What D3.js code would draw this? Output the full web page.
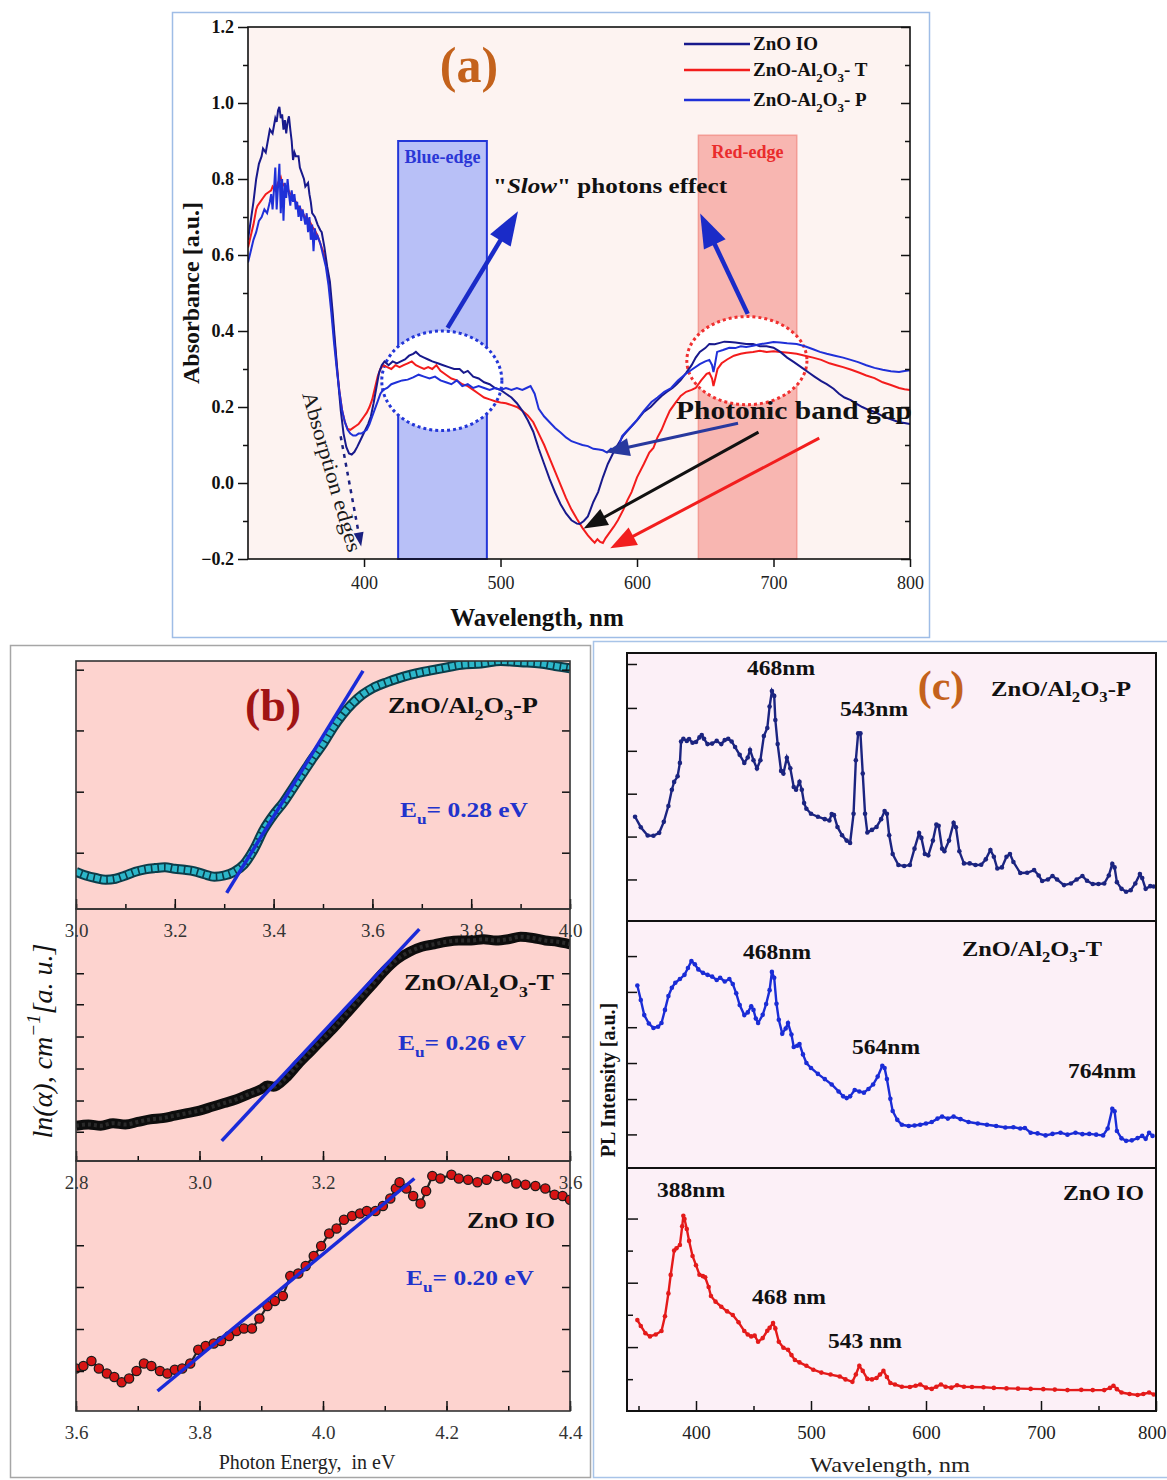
<!DOCTYPE html>
<html>
<head>
<meta charset="utf-8">
<script src="https://cdn.jsdelivr.net/npm/d3@7"></script>
<style>
  body { margin: 0; background: #fff; }
  svg { display: block; }
</style>
</head>
<body>
<svg id="fig" width="1167" height="1480"></svg>
<script>
// ---------------- data ----------------
// (a) absorbance vs wavelength [nm, a.u.]
var absIO = [[315,0.64],[317,0.69],[319,0.74],[321,0.80],[323,0.84],[325,0.86],[326,0.88],[328,0.87],[330,0.91],[331,0.93],[333,0.92],[335,0.96],[336,0.95],[337,0.98],[338,0.99],[339,0.96],[340,0.97],[341,0.93],[342,0.955],[343,0.92],[344,0.95],[345,0.965],[346,0.93],[347,0.90],[348,0.85],[349,0.87],[350,0.86],[352,0.86],[353,0.83],[354,0.82],[356,0.80],[357,0.78],[359,0.79],[360,0.76],[361,0.74],[362,0.71],[364,0.70],[366,0.68],[368,0.665],[369,0.66],[371,0.62],[373,0.57],[375,0.53],[377,0.45],[379,0.36],[381,0.27],[383,0.19],[385,0.13],[387,0.095],[389,0.078],[391,0.075],[393,0.082],[395,0.095],[397,0.11],[399,0.125],[401,0.14],[403,0.155],[405,0.175],[407,0.21],[409,0.25],[411,0.29],[413,0.31],[415,0.32],[418,0.31],[421,0.32],[424,0.315],[427,0.32],[430,0.325],[433,0.335],[436,0.34],[438,0.345],[441,0.335],[444,0.33],[447,0.325],[450,0.32],[454,0.315],[458,0.31],[462,0.305],[466,0.30],[470,0.30],[473,0.29],[476,0.295],[480,0.28],[484,0.275],[488,0.265],[492,0.26],[496,0.25],[500,0.245],[504,0.235],[508,0.225],[512,0.21],[516,0.19],[520,0.165],[524,0.135],[528,0.09],[532,0.05],[536,0.01],[540,-0.025],[544,-0.056],[548,-0.08],[552,-0.098],[556,-0.107],[558,-0.108],[561,-0.1],[564,-0.088],[568,-0.05],[571.5,-0.024],[575,0.015],[578.6,0.05],[582,0.075],[585.8,0.10],[590,0.125],[594.7,0.144],[600,0.165],[605,0.187],[610,0.20],[614,0.215],[618,0.229],[622,0.24],[626,0.25],[629,0.26],[632,0.271],[636,0.29],[640,0.31],[643,0.33],[646,0.345],[650,0.355],[653,0.366],[657,0.365],[660,0.368],[664,0.372],[668,0.371],[672,0.37],[676,0.368],[680,0.366],[685,0.366],[690,0.36],[695,0.36],[700,0.356],[705,0.345],[710,0.33],[715,0.318],[721,0.303],[726,0.29],[730,0.28],[735,0.268],[739,0.26],[744,0.248],[748,0.235],[752,0.225],[756.6,0.218],[760,0.21],[765,0.2],[770,0.192],[774,0.187],[779,0.178],[784,0.17],[788,0.165],[792,0.16],[796,0.158],[800,0.155]];
var absT = [[315,0.62],[317,0.65],[319,0.68],[321,0.72],[322,0.73],[324,0.74],[326,0.75],[328,0.76],[330,0.765],[332,0.77],[333,0.78],[335,0.77],[337,0.79],[339,0.805],[340,0.79],[342,0.78],[344,0.775],[346,0.76],[348,0.755],[350,0.74],[351,0.73],[353,0.725],[355,0.71],[357,0.70],[359,0.695],[360,0.69],[362,0.675],[364,0.665],[366,0.65],[368,0.63],[370,0.61],[372,0.58],[374,0.54],[376,0.47],[378,0.39],[380,0.31],[382,0.24],[384,0.19],[386,0.16],[388,0.142],[390,0.14],[392,0.145],[394,0.15],[396,0.155],[398,0.165],[400,0.175],[402,0.185],[404,0.2],[406,0.22],[408,0.25],[410,0.28],[412,0.30],[414,0.31],[417,0.305],[420,0.30],[423,0.31],[426,0.305],[429,0.31],[432,0.315],[435,0.32],[438,0.31],[441,0.305],[444,0.30],[447,0.305],[450,0.30],[453,0.31],[456,0.295],[460,0.285],[464,0.275],[468,0.27],[472,0.26],[476,0.255],[480,0.245],[484,0.235],[488,0.225],[492,0.22],[496,0.215],[500,0.212],[504,0.21],[508,0.205],[512,0.20],[516,0.19],[520,0.178],[524,0.16],[528,0.13],[532,0.10],[536,0.065],[540,0.03],[544,-0.005],[548,-0.04],[552,-0.07],[556,-0.095],[560,-0.118],[564,-0.138],[567,-0.15],[569,-0.157],[571,-0.148],[573,-0.155],[575,-0.158],[577,-0.145],[580,-0.13],[583,-0.115],[586,-0.098],[590,-0.07],[593,-0.045],[596,-0.024],[600,0.015],[605,0.05],[609,0.08],[612,0.092],[615,0.12],[618,0.14],[621,0.166],[624,0.19],[628,0.21],[632,0.229],[636,0.24],[640,0.245],[643,0.25],[647,0.27],[651,0.287],[653,0.29],[655,0.275],[656,0.255],[657,0.27],[659,0.30],[662,0.315],[666,0.325],[671,0.335],[676,0.34],[680,0.343],[685,0.345],[690,0.348],[695,0.345],[700,0.347],[705,0.345],[711,0.343],[717,0.34],[723,0.335],[729,0.33],[735,0.324],[741,0.315],[746,0.31],[751,0.305],[757,0.298],[763,0.29],[768,0.283],[774,0.276],[780,0.265],[786,0.258],[792,0.25],[796,0.247],[800,0.245]];
var absP = [[315,0.58],[317,0.61],[319,0.64],[321,0.66],[323,0.69],[325,0.70],[327,0.72],[329,0.71],[331,0.74],[332,0.76],[333,0.72],[334,0.77],[335,0.83],[336,0.72],[337,0.78],[338,0.84],[339,0.71],[340,0.80],[341,0.69],[342,0.79],[343,0.75],[344,0.80],[345,0.76],[346,0.73],[347,0.77],[348,0.74],[349,0.76],[350,0.72],[351,0.74],[352,0.70],[353,0.73],[354,0.69],[355,0.72],[356,0.70],[357,0.68],[358,0.71],[359,0.66],[360,0.70],[361,0.64],[362,0.68],[363,0.61],[364,0.67],[365,0.64],[366,0.65],[368,0.63],[370,0.60],[372,0.57],[374,0.52],[376,0.45],[378,0.37],[380,0.30],[382,0.24],[384,0.19],[386,0.16],[388,0.14],[390,0.13],[392,0.125],[394,0.125],[396,0.13],[398,0.13],[400,0.135],[402,0.14],[404,0.155],[406,0.175],[408,0.195],[410,0.215],[412,0.235],[414,0.245],[417,0.25],[420,0.26],[424,0.265],[428,0.27],[432,0.272],[436,0.278],[440,0.285],[444,0.28],[448,0.275],[452,0.28],[456,0.27],[460,0.265],[464,0.26],[468,0.27],[472,0.255],[476,0.26],[480,0.25],[484,0.255],[488,0.25],[492,0.245],[496,0.25],[500,0.245],[504,0.25],[508,0.245],[512,0.25],[516,0.245],[519,0.25],[522,0.255],[525,0.235],[528,0.195],[532,0.175],[536,0.16],[540,0.145],[544,0.133],[548,0.12],[552,0.11],[556,0.105],[560,0.10],[564,0.097],[568,0.09],[572,0.088],[575,0.086],[578,0.08],[581,0.09],[584,0.085],[587,0.1],[589,0.123],[592,0.135],[596,0.15],[600,0.166],[605,0.19],[610.6,0.213],[615,0.225],[620,0.24],[625,0.25],[630,0.27],[635.6,0.287],[640,0.298],[646,0.313],[650,0.32],[653,0.324],[655,0.31],[656,0.292],[657,0.31],[658.7,0.345],[663,0.35],[667.6,0.356],[672,0.355],[676,0.36],[680,0.358],[685,0.361],[690,0.365],[695,0.368],[700,0.371],[705,0.37],[710,0.368],[717,0.366],[723,0.36],[729,0.352],[734,0.345],[739,0.34],[745,0.335],[751,0.33],[756.6,0.324],[762,0.318],[768,0.31],[774,0.303],[780,0.298],[786,0.294],[792,0.292],[796,0.295],[800,0.297]];
var absNames = ["ZnO IO", "ZnO-Al_2O_3- T", "ZnO-Al_2O_3- P"];
var aYTicks = [-0.2, 0, 0.2, 0.4, 0.6, 0.8, 1.0, 1.2];
var aYMinor = [-0.1, 0.1, 0.3, 0.5, 0.7, 0.9, 1.1];
var aXTicks = [400, 500, 600, 700, 800];
var blueEdge = [425, 490, 0.9];
var redEdge = [645, 717, 0.915];

// (b) Urbach plots [eV, relative ln(alpha)]
var urbP = [[3.00,0.15],[3.02,0.135],[3.04,0.125],[3.06,0.118],[3.08,0.122],[3.10,0.135],[3.12,0.15],[3.14,0.16],[3.16,0.165],[3.18,0.168],[3.20,0.162],[3.22,0.158],[3.24,0.152],[3.26,0.14],[3.28,0.13],[3.30,0.135],[3.32,0.15],[3.34,0.18],[3.36,0.24],[3.38,0.32],[3.40,0.38],[3.42,0.43],[3.44,0.49],[3.46,0.55],[3.48,0.61],[3.50,0.665],[3.52,0.73],[3.54,0.785],[3.56,0.83],[3.58,0.865],[3.60,0.89],[3.63,0.915],[3.66,0.935],[3.70,0.955],[3.74,0.97],[3.78,0.985],[3.82,0.99],[3.86,1.0],[3.90,0.995],[3.94,0.99],[3.97,0.98],[4.00,0.97]];
var urbT = [[2.80,0.14],[2.82,0.145],[2.84,0.14],[2.86,0.15],[2.88,0.145],[2.90,0.155],[2.92,0.165],[2.94,0.17],[2.96,0.18],[2.98,0.19],[3.00,0.20],[3.02,0.215],[3.04,0.23],[3.06,0.245],[3.08,0.265],[3.10,0.285],[3.11,0.30],[3.12,0.295],[3.14,0.33],[3.16,0.385],[3.18,0.435],[3.20,0.485],[3.22,0.535],[3.24,0.59],[3.26,0.645],[3.28,0.70],[3.30,0.755],[3.32,0.80],[3.34,0.83],[3.36,0.85],[3.38,0.86],[3.40,0.87],[3.42,0.875],[3.44,0.875],[3.46,0.88],[3.48,0.875],[3.50,0.88],[3.52,0.89],[3.54,0.885],[3.56,0.875],[3.58,0.87],[3.60,0.86]];
var urbIO = [[3.600,0.17],[3.612,0.18],[3.625,0.20],[3.637,0.17],[3.650,0.15],[3.662,0.136],[3.674,0.115],[3.686,0.13],[3.698,0.16],[3.710,0.19],[3.722,0.18],[3.736,0.16],[3.748,0.15],[3.760,0.165],[3.772,0.17],[3.785,0.19],[3.798,0.245],[3.810,0.26],[3.823,0.27],[3.835,0.28],[3.848,0.30],[3.860,0.32],[3.872,0.33],[3.885,0.33],[3.897,0.37],[3.910,0.42],[3.922,0.44],[3.935,0.46],[3.947,0.54],[3.960,0.55],[3.972,0.58],[3.985,0.62],[3.997,0.66],[4.010,0.71],[4.022,0.73],[4.034,0.765],[4.047,0.78],[4.060,0.79],[4.071,0.80],[4.085,0.80],[4.097,0.82],[4.109,0.85],[4.118,0.89],[4.124,0.915],[4.135,0.89],[4.146,0.86],[4.158,0.83],[4.167,0.88],[4.177,0.94],[4.190,0.93],[4.208,0.945],[4.220,0.93],[4.235,0.925],[4.250,0.915],[4.265,0.925],[4.282,0.94],[4.297,0.93],[4.313,0.91],[4.328,0.905],[4.344,0.9],[4.360,0.89],[4.375,0.865],[4.388,0.86],[4.400,0.845]];
var fitP = [[3.305,0.065],[3.581,0.96]];
var fitT = [[3.036,0.08],[3.356,0.92]];
var fitIO = [[3.732,0.08],[4.148,0.93]];
var urbLabels = ["ZnO/Al_2O_3-P", "ZnO/Al_2O_3-T", "ZnO IO"];
var urbEnergies = ["E_u= 0.28 eV", "E_u= 0.26 eV", "E_u= 0.20 eV"];
var bXTicksP = [3.0, 3.2, 3.4, 3.6, 3.8, 4.0];
var bXMajorT = [2.8, 3.0, 3.2, 3.4, 3.6];
var bXTicksT = [2.8, 3.0, 3.2, 3.6];
var bXTicksIO = [3.6, 3.8, 4.0, 4.2, 4.4];
var bYTicksP = [0.227, 0.473, 0.72, 0.965];
var bYTicksT = [0.116, 0.24, 0.367, 0.494, 0.622, 0.745];
var bYTicksIO = [0.16, 0.328, 0.496, 0.663];

// (c) PL spectra [nm, relative intensity]
var plP = [[347,0.389],[352,0.35],[358,0.319],[363,0.318],[368,0.329],[372,0.37],[376,0.429],[379,0.49],[381,0.519],[384,0.54],[386,0.59],[387,0.67],[389,0.68],[392,0.672],[394,0.679],[397,0.665],[400,0.668],[403,0.685],[405,0.694],[407,0.68],[410,0.66],[414,0.662],[418,0.672],[422,0.66],[425,0.675],[428,0.68],[431,0.67],[434,0.649],[438,0.62],[442,0.59],[445,0.61],[447,0.638],[450,0.60],[453,0.569],[456,0.6],[459,0.69],[462,0.72],[464,0.8],[466,0.858],[468,0.84],[469,0.75],[471,0.66],[474,0.56],[476,0.55],[479,0.609],[482,0.57],[485,0.50],[487,0.49],[490,0.519],[492,0.49],[494,0.44],[496,0.419],[500,0.40],[506,0.389],[512,0.38],[516,0.375],[518,0.399],[520,0.395],[523,0.351],[527,0.32],[531,0.30],[534,0.291],[537,0.40],[539,0.60],[541,0.70],[543,0.70],[545,0.55],[547,0.40],[549,0.33],[553,0.34],[557,0.351],[561,0.38],[564,0.41],[566,0.40],[568,0.32],[571,0.25],[576,0.209],[581,0.205],[586,0.209],[590,0.27],[594,0.328],[596,0.31],[599,0.25],[602,0.245],[606,0.30],[609,0.36],[611,0.355],[614,0.27],[616,0.26],[620,0.30],[624,0.366],[626,0.35],[629,0.26],[633,0.215],[638,0.215],[643,0.209],[648,0.21],[652,0.23],[656,0.265],[659,0.24],[662,0.196],[666,0.2],[670,0.24],[673,0.25],[676,0.22],[682,0.179],[688,0.18],[694,0.19],[698,0.17],[701,0.149],[706,0.155],[710,0.168],[714,0.155],[720,0.134],[726,0.14],[731,0.155],[736,0.168],[740,0.15],[745,0.138],[750,0.138],[755,0.14],[759,0.17],[762,0.213],[764,0.2],[766,0.145],[770,0.12],[774,0.109],[778,0.115],[782,0.14],[786,0.175],[788,0.16],[791,0.12],[795,0.13],[798,0.129]];
var plT = [[349,0.739],[352,0.68],[355,0.619],[359,0.585],[363,0.567],[367,0.572],[370,0.587],[373,0.64],[376,0.696],[379,0.73],[382,0.75],[386,0.765],[390,0.782],[393,0.81],[396,0.838],[399,0.825],[402,0.804],[406,0.79],[410,0.782],[414,0.775],[418,0.761],[421,0.77],[425,0.755],[429,0.765],[432,0.745],[435,0.707],[438,0.66],[442,0.619],[445,0.63],[448,0.655],[450,0.64],[452,0.605],[454,0.587],[458,0.62],[461,0.664],[464,0.72],[466,0.794],[468,0.77],[470,0.665],[472,0.6],[475,0.544],[478,0.565],[480,0.587],[483,0.54],[485,0.49],[488,0.495],[490,0.502],[493,0.46],[496,0.425],[500,0.405],[506,0.381],[512,0.36],[518,0.338],[524,0.31],[528,0.29],[531,0.283],[534,0.29],[538,0.316],[542,0.31],[546,0.305],[550,0.32],[554,0.338],[558,0.37],[562,0.414],[564,0.405],[566,0.36],[569,0.28],[571,0.231],[575,0.195],[579,0.175],[585,0.17],[590,0.172],[595,0.175],[600,0.18],[605,0.186],[610,0.2],[614,0.208],[619,0.2],[624,0.208],[630,0.198],[637,0.186],[645,0.18],[653,0.175],[661,0.17],[669,0.164],[676,0.165],[682,0.16],[686,0.162],[691,0.143],[697,0.14],[704,0.132],[710,0.138],[717,0.143],[723,0.135],[730,0.143],[736,0.137],[742,0.138],[748,0.135],[754,0.132],[758,0.16],[762,0.24],[764,0.23],[766,0.15],[770,0.12],[774,0.11],[779,0.112],[784,0.121],[788,0.13],[791,0.118],[794,0.143],[797,0.13]];
var plIO = [[349,0.374],[352,0.35],[356,0.32],[360,0.307],[365,0.315],[370,0.329],[373,0.39],[376,0.484],[378,0.56],[381,0.66],[383,0.67],[386,0.683],[388,0.76],[389,0.803],[390,0.79],[392,0.749],[394,0.7],[397,0.638],[400,0.6],[403,0.561],[406,0.555],[408,0.55],[411,0.51],[413,0.473],[417,0.45],[422,0.429],[427,0.41],[432,0.395],[437,0.365],[442,0.329],[445,0.315],[448,0.307],[451,0.31],[454,0.285],[458,0.3],[462,0.33],[464,0.342],[467,0.362],[469,0.34],[472,0.285],[476,0.26],[480,0.252],[483,0.23],[486,0.21],[490,0.2],[496,0.186],[502,0.17],[509,0.158],[517,0.15],[525,0.142],[530,0.13],[536,0.12],[539,0.15],[542,0.186],[545,0.165],[549,0.132],[553,0.13],[557,0.136],[560,0.15],[563,0.165],[566,0.14],[569,0.115],[573,0.109],[579,0.1],[586,0.099],[591,0.104],[595,0.109],[600,0.096],[605,0.091],[609,0.1],[613,0.109],[617,0.1],[622,0.096],[627,0.106],[633,0.1],[640,0.099],[650,0.098],[659,0.095],[670,0.093],[680,0.092],[691,0.091],[702,0.09],[712,0.088],[723,0.086],[735,0.087],[745,0.086],[755,0.086],[760,0.095],[763,0.104],[766,0.09],[770,0.076],[777,0.07],[784,0.066],[789,0.07],[794,0.076],[798,0.068]];
var plNames = ["ZnO/Al_2O_3-P", "ZnO/Al_2O_3-T", "ZnO IO"];
var cXTicks = [400, 500, 600, 700, 800];
var cXMinor = [350, 450, 550, 650, 750];
var cYTicksP = [0.155, 0.315, 0.475, 0.635, 0.795, 0.959];
var cYTicksT = [0.136, 0.279, 0.425, 0.570, 0.713, 0.858];
var cYTicksIO = [0.131, 0.263, 0.396, 0.528, 0.66, 0.792];

// ---------------- helpers ----------------
var SERIF = '"Liberation Serif", "Times New Roman", serif';
var svg = d3.select("#fig").attr("font-family", SERIF);
svg.append("rect").attr("width", 1167).attr("height", 1480).attr("fill", "#fff");

// "_x" = subscript char, "^{..}" = superscript
function rich(g, str, x, y, size) {
  var t = g.append("text").attr("x", x).attr("y", y).attr("font-size", size);
  var shift = 0;
  str.split(/(_.|\^\{[^}]*\})/).forEach(function(p) {
    if (!p) return;
    var s = t.append("tspan"), d = 0;
    if (p[0] === "_") { d = size * 0.3; s.attr("font-size", size * 0.68).text(p.slice(1)); }
    else if (p[0] === "^") { d = -size * 0.42; s.attr("font-size", size * 0.68).text(p.slice(2, -1)); }
    else s.text(p);
    s.attr("dy", d - shift);
    shift = d;
  });
  return t;
}

function arrow(g, x1, y1, x2, y2, color, w, hl, hw, dash) {
  var ang = Math.atan2(y2 - y1, x2 - x1);
  var bx = x2 - hl * Math.cos(ang), by = y2 - hl * Math.sin(ang);
  var ln = g.append("line").attr("x1", x1).attr("y1", y1).attr("x2", bx + Math.cos(ang) * 2).attr("y2", by + Math.sin(ang) * 2)
    .attr("stroke", color).attr("stroke-width", w);
  if (dash) ln.attr("stroke-dasharray", dash);
  g.append("path")
    .attr("d", "M" + x2 + "," + y2 +
      "L" + (bx + hw * Math.sin(ang)) + "," + (by - hw * Math.cos(ang)) +
      "L" + (bx - hw * Math.sin(ang)) + "," + (by + hw * Math.cos(ang)) + "Z")
    .attr("fill", color);
}

function ticks(g, axis, tx, ty) {
  var a = g.append("g").attr("transform", "translate(" + tx + "," + ty + ")").call(axis);
  a.select(".domain").remove();
  a.selectAll(".tick line").attr("stroke", "#111").attr("stroke-width", 1.5);
  a.attr("font-family", SERIF);
  return a;
}

/////////////////////////////////////////////////////////////
//////////////////////// panel (a) ////////////////////////
/////////////////////////////////////////////////////////////
var A = svg.append("g");
A.append("rect").attr("x", 172.5).attr("y", 12.5).attr("width", 757).attr("height", 625)
  .attr("fill", "#fff").attr("stroke", "#9fbde6").attr("stroke-width", 1.5);

var ax = d3.scaleLinear().domain([315, 800]).range([248, 910]);
var ay = d3.scaleLinear().domain([-0.2, 1.2]).range([559, 27]);

A.append("rect").attr("x", 248).attr("y", 27).attr("width", 662).attr("height", 532).attr("fill", "#fdf3f1");
A.append("clipPath").attr("id", "clipA").append("rect").attr("x", 248).attr("y", 27).attr("width", 662).attr("height", 532);

// edge bands
A.append("rect").attr("x", ax(blueEdge[0])).attr("y", ay(blueEdge[2]))
  .attr("width", ax(blueEdge[1]) - ax(blueEdge[0])).attr("height", ay(-0.2) - ay(blueEdge[2]))
  .attr("fill", "#b8c0f7").attr("stroke", "#2336d8").attr("stroke-width", 2);
A.append("rect").attr("x", ax(redEdge[0])).attr("y", ay(redEdge[2]))
  .attr("width", ax(redEdge[1]) - ax(redEdge[0])).attr("height", ay(-0.2) - ay(redEdge[2]))
  .attr("fill", "#f8b6b1").attr("stroke", "#f39b94").attr("stroke-width", 1.5);

// dotted circles
A.append("ellipse").attr("cx", ax(457)).attr("cy", ay(0.269)).attr("rx", ax(501) - ax(457)).attr("ry", ay(0.138) - ay(0.269))
  .attr("fill", "#fff").attr("stroke", "#2336d8").attr("stroke-width", 3).attr("stroke-dasharray", "3,3");
A.append("ellipse").attr("cx", ax(680.5)).attr("cy", ay(0.322)).attr("rx", ax(724.5) - ax(680.5)).attr("ry", ay(0.206) - ay(0.322))
  .attr("fill", "#fff").attr("stroke", "#f03030").attr("stroke-width", 3).attr("stroke-dasharray", "3,3");

var aLine = d3.line().x(function(d) { return ax(d[0]); }).y(function(d) { return ay(d[1]); });
var curves = A.append("g").attr("clip-path", "url(#clipA)");
curves.append("path").datum(absT).attr("d", aLine).attr("fill", "none").attr("stroke", "#f31c1c").attr("stroke-width", 2);
curves.append("path").datum(absIO).attr("d", aLine).attr("fill", "none").attr("stroke", "#18198c").attr("stroke-width", 2);
curves.append("path").datum(absP).attr("d", aLine).attr("fill", "none").attr("stroke", "#1f30d8").attr("stroke-width", 2);

// axes
ticks(A, d3.axisLeft(ay).tickValues(aYTicks).tickSize(10).tickPadding(4).tickFormat(d3.format(".1f")), 248, 0)
  .attr("font-size", 18).attr("font-weight", "bold").selectAll("text").attr("fill", "#111");
ticks(A, d3.axisLeft(ay).tickValues(aYMinor).tickSize(5).tickFormat(""), 248, 0);
ticks(A, d3.axisLeft(ay).tickValues(aYTicks).tickSize(9).tickFormat(""), 910, 0);
ticks(A, d3.axisLeft(ay).tickValues(aYMinor).tickSize(5).tickFormat(""), 910, 0);
ticks(A, d3.axisBottom(ax).tickValues(aXTicks).tickSize(8).tickPadding(9), 0, 559)
  .attr("font-size", 18).selectAll("text").attr("fill", "#222");
A.append("rect").attr("x", 248).attr("y", 27).attr("width", 662).attr("height", 532)
  .attr("fill", "none").attr("stroke", "#111").attr("stroke-width", 1.6);

// arrows
arrow(A, ax(461.2), ay(0.408), ax(512.8), ay(0.715), "#1a2bc8", 4.5, 34, 12);
arrow(A, ax(681.1), ay(0.445), ax(646.3), ay(0.709), "#1a2bc8", 4.5, 34, 12);
arrow(A, ax(674), ay(0.157), ax(576.9), ay(0.081), "#28399e", 3, 24, 9);
arrow(A, ax(689), ay(0.134), ax(560.9), ay(-0.12), "#111", 3, 24, 9);
arrow(A, ax(733.5), ay(0.118), ax(580.4), ay(-0.172), "#f21e1e", 3, 26, 10);
arrow(A, ax(382.9), ay(0.123), ax(397.9), ay(-0.167), "#1b2080", 2.5, 14, 5, "4,5");

// texts
A.append("text").attr("x", 469).attr("y", 82).attr("text-anchor", "middle").attr("font-size", 50)
  .attr("font-weight", "bold").attr("fill", "#c4621c").text("(a)");
[absIO, absT, absP].forEach(function(s, i) {
  var yy = [44, 70, 100][i];
  A.append("line").attr("x1", 684).attr("x2", 750).attr("y1", yy).attr("y2", yy)
    .attr("stroke", ["#18198c", "#f31c1c", "#1f30d8"][i]).attr("stroke-width", 2.5);
  rich(A, absNames[i], 753, yy + 6, 19).attr("font-weight", "bold").attr("fill", "#111");
});
A.append("text").attr("x", ax(457.5)).attr("y", 163).attr("text-anchor", "middle").attr("font-size", 18)
  .attr("font-weight", "bold").attr("fill", "#2a36d6").text("Blue-edge");
A.append("text").attr("x", ax(681)).attr("y", 158).attr("text-anchor", "middle").attr("font-size", 18)
  .attr("font-weight", "bold").attr("fill", "#ea2c2c").text("Red-edge");
var slow = A.append("text").attr("x", 493).attr("y", 193).attr("font-size", 22).attr("font-weight", "bold").attr("fill", "#111")
  .attr("textLength", 234).attr("lengthAdjust", "spacingAndGlyphs");
slow.append("tspan").text("\"");
slow.append("tspan").attr("font-style", "italic").text("Slow");
slow.append("tspan").text("\" photons effect");
A.append("text").attr("x", 676).attr("y", 419).attr("font-size", 26).attr("font-weight", "bold").attr("fill", "#111")
  .attr("textLength", 236).attr("lengthAdjust", "spacingAndGlyphs").text("Photonic band gap");
A.append("text").attr("transform", "translate(302,394) rotate(73.8)").attr("font-size", 21).attr("fill", "#1a1a1a")
  .attr("textLength", 166).attr("lengthAdjust", "spacingAndGlyphs").text("Absorption edges");
A.append("text").attr("transform", "translate(199,293) rotate(-90)").attr("text-anchor", "middle")
  .attr("font-size", 24).attr("font-weight", "bold").attr("fill", "#111").text("Absorbance [a.u.]");
A.append("text").attr("x", 537).attr("y", 626).attr("text-anchor", "middle")
  .attr("font-size", 25).attr("font-weight", "bold").attr("fill", "#111").text("Wavelength, nm");

/////////////////////////////////////////////////////////////
//////////////////////// panel (b) ////////////////////////
/////////////////////////////////////////////////////////////
var B = svg.append("g");
B.append("rect").attr("x", 10.5).attr("y", 645.5).attr("width", 580).attr("height", 832)
  .attr("fill", "#fff").attr("stroke", "#a6a6a6").attr("stroke-width", 1.5);

var bRows = [
  { data: urbP, fit: fitP, xd: [3.0, 4.0], top: 661, bot: 909, xt: bXTicksP, xm: bXTicksP, yt: bYTicksP, kind: "cyan" },
  { data: urbT, fit: fitT, xd: [2.8, 3.6], top: 909, bot: 1161, xt: bXTicksT, xm: bXMajorT, yt: bYTicksT, kind: "black" },
  { data: urbIO, fit: fitIO, xd: [3.6, 4.4], top: 1161, bot: 1411, xt: bXTicksIO, xm: bXTicksIO, yt: bYTicksIO, kind: "red" }
];
var bL = 76, bR = 570;

// backgrounds first, then tick labels (they sit inside the next row), then data
bRows.forEach(function(r) {
  r.x = d3.scaleLinear().domain(r.xd).range([bL, bR]);
  r.y = d3.scaleLinear().domain([0, 1]).range([r.bot, r.top]);
  B.append("rect").attr("x", bL).attr("y", r.top).attr("width", bR - bL).attr("height", r.bot - r.top).attr("fill", "#fdd3cf");
});
bRows.forEach(function(r) {
  var lab = ticks(B, d3.axisBottom(r.x).tickValues(r.xt).tickSize(0).tickPadding(15).tickFormat(d3.format(".1f")), 0, r.bot)
    .attr("font-size", 19);
  lab.selectAll("text").attr("fill", "#333");
});

bRows.forEach(function(r, i) {
  B.append("clipPath").attr("id", "clipB" + i).append("rect")
    .attr("x", bL).attr("y", r.top).attr("width", bR - bL).attr("height", r.bot - r.top);
  var g = B.append("g").attr("clip-path", "url(#clipB" + i + ")");
  var line = d3.line().x(function(d) { return r.x(d[0]); }).y(function(d) { return r.y(d[1]); }).curve(d3.curveMonotoneX);
  if (r.kind === "cyan") {
    g.append("path").datum(r.data).attr("d", line).attr("fill", "none").attr("stroke", "#0b3d4a").attr("stroke-width", 10);
    g.append("path").datum(r.data).attr("d", line).attr("fill", "none").attr("stroke", "#2cb7ca")
      .attr("stroke-width", 6).attr("stroke-dasharray", "5,1.6");
  } else if (r.kind === "black") {
    g.append("path").datum(r.data).attr("d", line).attr("fill", "none").attr("stroke", "#0d0d0d").attr("stroke-width", 10);
    g.append("path").datum(r.data).attr("d", line).attr("fill", "none").attr("stroke", "#2a2a2a")
      .attr("stroke-width", 4).attr("stroke-dasharray", "3,3");
  } else {
    g.append("path").datum(r.data).attr("d", d3.line().x(function(d) { return r.x(d[0]); }).y(function(d) { return r.y(d[1]); }))
      .attr("fill", "none").attr("stroke", "#222").attr("stroke-width", 2.2);
    g.selectAll("circle").data(r.data).enter().append("circle")
      .attr("cx", function(d) { return r.x(d[0]); }).attr("cy", function(d) { return r.y(d[1]); })
      .attr("r", 4.6).attr("fill", "#d71414").attr("stroke", "#1a1a1a").attr("stroke-width", 1.3);
  }
  g.append("line").attr("x1", r.x(r.fit[0][0])).attr("y1", r.y(r.fit[0][1]))
    .attr("x2", r.x(r.fit[1][0])).attr("y2", r.y(r.fit[1][1]))
    .attr("stroke", "#1a2ad8").attr("stroke-width", 3.5);

  var minor = d3.range(Math.round(r.xd[0] * 10), Math.round(r.xd[1] * 10) + 1).map(function(v) { return v / 10; });
  ticks(B, d3.axisTop(r.x).tickValues(minor).tickSize(5).tickFormat(""), 0, r.bot);
  ticks(B, d3.axisTop(r.x).tickValues(r.xm).tickSize(10).tickFormat(""), 0, r.bot);
  ticks(B, d3.axisRight(r.y).tickValues(r.yt).tickSize(8).tickFormat(""), bL, 0);
  ticks(B, d3.axisLeft(r.y).tickValues(r.yt).tickSize(8).tickFormat(""), bR, 0);
  B.append("rect").attr("x", bL).attr("y", r.top).attr("width", bR - bL).attr("height", r.bot - r.top)
    .attr("fill", "none").attr("stroke", "#333").attr("stroke-width", 1.6);
});

B.append("text").attr("x", 273).attr("y", 721).attr("text-anchor", "middle").attr("font-size", 46)
  .attr("font-weight", "bold").attr("fill", "#a01414").text("(b)");
[[388, 713], [404, 990], [467, 1228]].forEach(function(p, i) {
  rich(B, urbLabels[i], p[0], p[1], 23).attr("font-weight", "bold").attr("fill", "#111")
    .attr("textLength", i === 2 ? 88 : 150).attr("lengthAdjust", "spacingAndGlyphs");
});
[[400, 817], [398, 1050], [406, 1285]].forEach(function(p, i) {
  rich(B, urbEnergies[i], p[0], p[1], 22).attr("font-weight", "bold").attr("fill", "#2233cc")
    .attr("textLength", 128).attr("lengthAdjust", "spacingAndGlyphs");
});
rich(B, "ln(α), cm^{−1}[a. u.]", 0, 0, 28).attr("transform", "translate(52,1041) rotate(-90)")
  .attr("text-anchor", "middle").attr("font-style", "italic").attr("fill", "#111");
B.append("text").attr("x", 307).attr("y", 1469).attr("text-anchor", "middle").attr("font-size", 20)
  .attr("fill", "#222").style("white-space", "pre").text("Photon Energy,  in eV");

/////////////////////////////////////////////////////////////
//////////////////////// panel (c) ////////////////////////
/////////////////////////////////////////////////////////////
var C = svg.append("g");
C.append("rect").attr("x", 593.5).attr("y", 641.5).attr("width", 580).attr("height", 836)
  .attr("fill", "#fff").attr("stroke", "#a8c4e8").attr("stroke-width", 1.5);

var cL = 627, cR = 1156;
var cx = d3.scaleLinear().domain([340, 800]).range([cL, cR]);
var cRows = [
  { data: plP, top: 653, bot: 921, yt: cYTicksP, color: "#1b2480" },
  { data: plT, top: 921, bot: 1168, yt: cYTicksT, color: "#1a2cd6" },
  { data: plIO, top: 1168, bot: 1411, yt: cYTicksIO, color: "#e41a1a" }
];

cRows.forEach(function(r, i) {
  var y = d3.scaleLinear().domain([0, 1]).range([r.bot, r.top]);
  C.append("rect").attr("x", cL).attr("y", r.top).attr("width", cR - cL).attr("height", r.bot - r.top).attr("fill", "#fcf0f7");
  C.append("clipPath").attr("id", "clipC" + i).append("rect")
    .attr("x", cL).attr("y", r.top).attr("width", cR - cL).attr("height", r.bot - r.top);
  var g = C.append("g").attr("clip-path", "url(#clipC" + i + ")");
  g.append("path").datum(r.data)
    .attr("d", d3.line().x(function(d) { return cx(d[0]); }).y(function(d) { return y(d[1]); }))
    .attr("fill", "none").attr("stroke", r.color).attr("stroke-width", 2.4);
  g.selectAll("circle").data(r.data).enter().append("circle")
    .attr("cx", function(d) { return cx(d[0]); }).attr("cy", function(d) { return y(d[1]); })
    .attr("r", 2.3).attr("fill", r.color);
  var yt = ticks(C, d3.axisRight(y).tickValues(r.yt).tickSize(10).tickFormat(""), cL, 0);
  if (i === 2) yt.selectAll(".tick line").attr("x2", function(d, j) { return j % 2 ? 11 : 6; });
  C.append("rect").attr("x", cL).attr("y", r.top).attr("width", cR - cL).attr("height", r.bot - r.top)
    .attr("fill", "none").attr("stroke", "#111").attr("stroke-width", 2);
});

ticks(C, d3.axisTop(cx).tickValues(cXTicks).tickSize(10).tickFormat(""), 0, 1411);
ticks(C, d3.axisTop(cx).tickValues(cXMinor).tickSize(5).tickFormat(""), 0, 1411);
var cLab = ticks(C, d3.axisBottom(cx).tickValues(cXTicks).tickSize(0).tickPadding(15), 0, 1411).attr("font-size", 19);
cLab.selectAll("text").attr("fill", "#222");
cLab.selectAll(".tick").filter(function(d) { return d === 800; }).select("text").attr("text-anchor", "end").attr("x", 10);

C.append("text").attr("x", 941).attr("y", 700).attr("text-anchor", "middle").attr("font-size", 42)
  .attr("font-weight", "bold").attr("fill", "#c4621c").text("(c)");
[[991, 696], [962, 956], [1063, 1200]].forEach(function(p, i) {
  rich(C, plNames[i], p[0], p[1], 21).attr("font-weight", "bold").attr("fill", "#111")
    .attr("textLength", i === 2 ? 81 : 140).attr("lengthAdjust", "spacingAndGlyphs");
});
var peakLabels = [["468nm", 781, 675], ["543nm", 874, 716], ["468nm", 777, 959], ["564nm", 886, 1054],
  ["764nm", 1102, 1078], ["388nm", 691, 1197], ["468 nm", 789, 1304], ["543 nm", 865, 1348]];
peakLabels.forEach(function(p) {
  C.append("text").attr("x", p[1] - (p[0].length > 5 ? 37 : 34)).attr("y", p[2]).attr("font-size", 21)
    .attr("font-weight", "bold").attr("fill", "#111")
    .attr("textLength", p[0].length > 5 ? 74 : 68).attr("lengthAdjust", "spacingAndGlyphs").text(p[0]);
});
C.append("text").attr("transform", "translate(615,1080) rotate(-90)").attr("text-anchor", "middle")
  .attr("font-size", 20).attr("font-weight", "bold").attr("fill", "#111").text("PL Intensity [a.u.]");
C.append("text").attr("x", 810).attr("y", 1472).attr("font-size", 22).attr("fill", "#222")
  .attr("textLength", 160).attr("lengthAdjust", "spacingAndGlyphs").text("Wavelength, nm");
</script>
</body>
</html>
